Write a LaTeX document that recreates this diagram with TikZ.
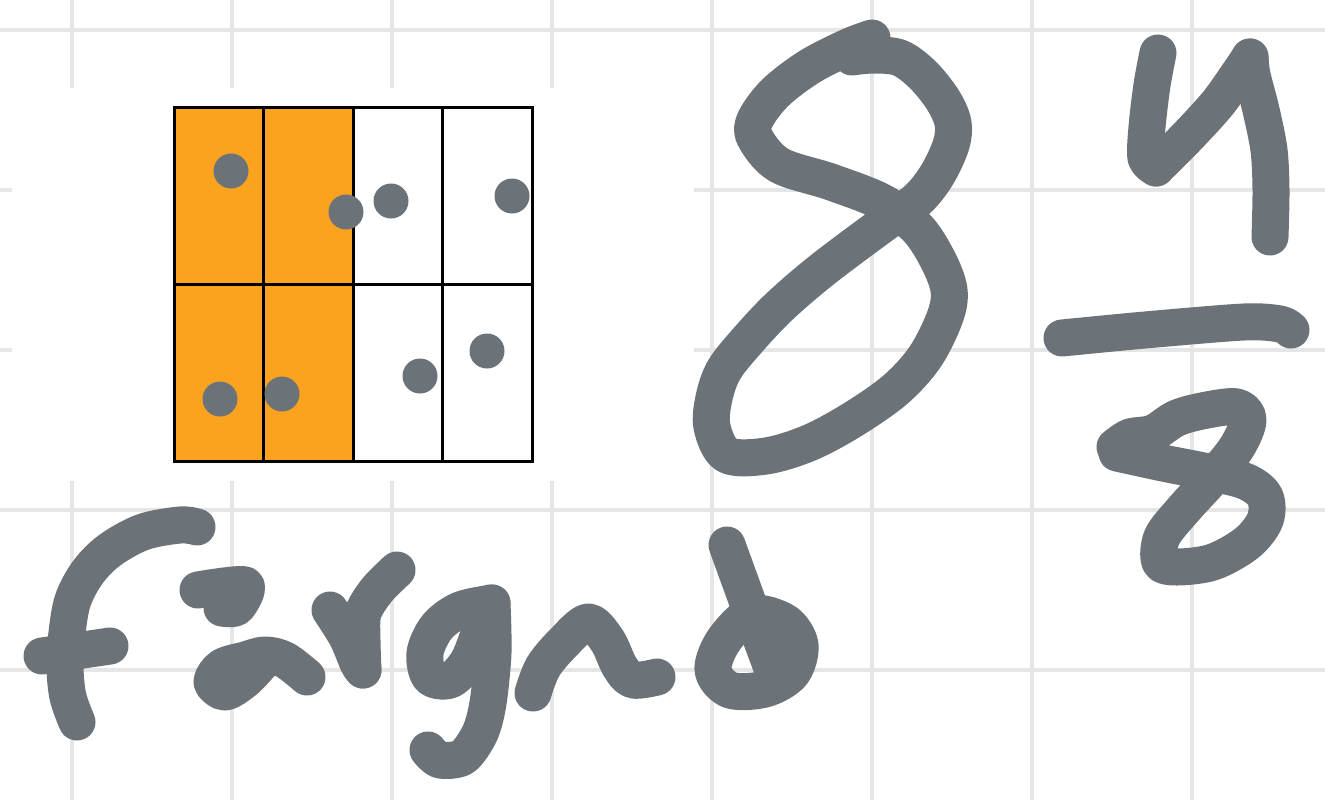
\documentclass[tikz,border=0pt]{standalone}
\usepackage{xcolor}
\usepackage{tikz}
\definecolor{sketchInk}{HTML}{6C7378}
\definecolor{sketchOrange}{HTML}{FBA21F}
\definecolor{sketchGrid}{HTML}{E6E6E6}
\tikzset{
    sketch/grid line/.style={
        draw=sketchGrid, line width=4pt
    },
    sketch/cover/.style={fill=white},
    sketch/cell/.style={
        draw=black, line width=3pt
    },
    sketch/shaded/.style={fill=sketchOrange},
    sketch/dot/.style={fill=sketchInk},
    sketch/stroke/.style={
        draw=sketchInk, line width=37pt,
        line cap=round, line join=round
    }
}

\begin{document}
\begin{tikzpicture}[x=1pt, y=-1pt]
    \fill[white] (0,0) rectangle (1325,800);
    \useasboundingbox (0,0) rectangle (1325,800);

    % grid paper
    \foreach \gx in {72,232,...,1192}
        \draw[sketch/grid line] (\gx,0) -- (\gx,800);
    \foreach \gy in {30,190,...,670}
        \draw[sketch/grid line] (0,\gy) -- (1325,\gy);
    \fill[sketch/cover] (12,88) rectangle (694,481);

    % bar model, 4 of 8 parts shaded
    \fill[sketch/shaded] (174,107) rectangle (353,461);
    \foreach \cx in {174,263.5,353,442.5}
        \foreach \cy in {107,284}
            \draw[sketch/cell] (\cx,\cy) rectangle ++(89.5,177);
    \foreach \dx/\dy in {231/171, 346/212, 391/201, 512/196,
                         220/399, 282/394, 420/376, 487/351}
        \fill[sketch/dot] (\dx,\dy) circle[radius=17.5pt];

    % big 8
    \draw[sketch/stroke] plot[smooth, tension=0.55] coordinates {
        (872,38) (848,47) (809,67) (775,93) (755,120) (755,138)
        (779,165) (831,182) (882,202) (917,228) (938,260) (949,290)
        (945,317) (925,357) (895,390) (852,420) (809,443) (766,456)
        (727,455) (712,427) (714,398) (724,370) (747,341) (779,307)
        (822,270) (882,225) (917,200) (937,175) (951,145) (953,123)
        (943,100) (923,75) (900,58) (874,55) (852,57)};

    % fraction 4/8
    \draw[sketch/stroke] plot[smooth, tension=0.5] coordinates {
        (1158,53) (1152,85) (1147,127) (1146,158) (1156,168)};
    \draw[sketch/stroke] plot[smooth, tension=0.5] coordinates {
        (1156,168) (1188,136) (1218,103) (1240,72) (1250,57)};
    \draw[sketch/stroke] plot[smooth, tension=0.5] coordinates {
        (1250,57) (1252,75) (1261,110) (1269,150) (1271,190) (1270,237)};
    \draw[sketch/stroke] plot[smooth, tension=0.5] coordinates {
        (1062,338) (1145,330) (1244,322) (1280,324) (1291,330)};
    \draw[sketch/stroke] plot[smooth, tension=0.55] coordinates {
        (1117,453) (1163,463) (1213,473) (1247,482) (1265,497)
        (1265,520) (1247,543) (1213,562) (1177,567) (1160,562)
        (1162,537) (1183,510) (1213,477) (1237,447) (1248,420)
        (1237,407) (1207,410) (1177,418) (1153,433) (1130,437)
        (1115,447)};

    % word
    \draw[sketch/stroke] plot[smooth, tension=0.55] coordinates {
        (197,527) (180,525) (143,532) (110,550) (88,572) (73,600)
        (67,633) (65,667) (68,697) (77,722)};
    \draw[sketch/stroke] (42,656) -- (110,646);
    \draw[sketch/stroke] plot[smooth, tension=0.5] coordinates {
        (198,590) (245,585) (237,607) (222,608)};
    \draw[sketch/stroke] plot[smooth, tension=0.55] coordinates {
        (307,677) (285,660) (265,655) (245,660) (222,667) (212,682)
        (225,692) (245,680) (262,662)};
    \draw[sketch/stroke] plot[smooth, tension=0.5] coordinates {
        (330,610) (347,637) (358,663) (363,670)};
    \draw[sketch/stroke] plot[smooth, tension=0.5] coordinates {
        (363,670) (362,640) (363,613) (377,590) (397,570)};
    \draw[sketch/stroke] plot[smooth, tension=0.55] coordinates {
        (492,603) (460,610) (437,627) (425,653) (430,677) (450,680)
        (467,663) (478,637) (490,603)};
    \draw[sketch/stroke] plot[smooth, tension=0.5] coordinates {
        (492,603) (493,653) (488,703) (480,733) (463,757) (440,760)
        (428,750)};
    \draw[sketch/stroke] plot[smooth, tension=0.55] coordinates {
        (533,693) (543,667) (563,643) (588,622) (607,640) (620,667)
        (633,680) (657,677)};
    \draw[sketch/stroke] (727,545) -- (752,614);
    \draw[sketch/stroke] (752,614) -- (772,668);
    \draw[sketch/stroke] plot[smooth cycle, tension=0.55] coordinates {
        (752,614) (724,640) (713,670) (730,690) (765,689)
        (792,673) (800,645) (785,622)};
    \draw[sketch/stroke] (785,625) -- (797,660);
\end{tikzpicture}
\end{document}
